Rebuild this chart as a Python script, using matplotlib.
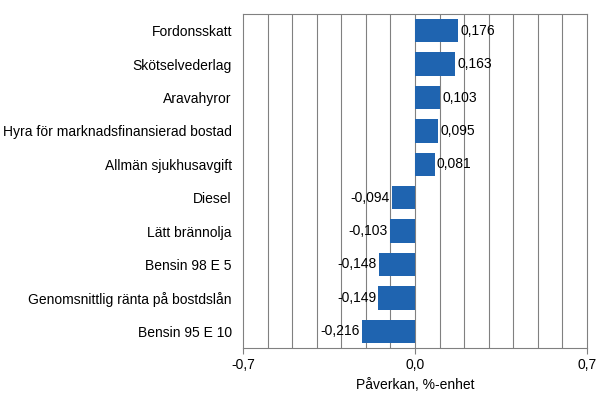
import matplotlib
matplotlib.use("Agg")
import matplotlib.pyplot as plt
import numpy as np

categories = ["Fordonsskatt", "Skötselvederlag", "Aravahyror", "Hyra för marknadsfinansierad bostad",
              "Allmän sjukhusavgift", "Diesel", "Lätt brännolja", "Bensin 98 E 5",
              "Genomsnittlig ränta på bostdslån", "Bensin 95 E 10"]
values = [0.176, 0.163, 0.103, 0.095, 0.081, -0.094, -0.103, -0.148, -0.149, -0.216]
xticks = [-0.7, 0.0, 0.7]
xticklabels = ["-0,7", "0,0", "0,7"]

plt.rcParams["font.family"] = "Liberation Sans"
fig = plt.figure(figsize=(6.06, 4.16), dpi=100)
ax = fig.add_axes([243/606, 1-348/416, 344/606, 334/416])
y = np.arange(len(categories))
ax.barh(y, values, height=0.7, color="#1f64b0", zorder=3)
for v in np.arange(-0.6, 0.7, 0.1):
    ax.axvline(v, color="#808080", lw=0.8, zorder=1)
ax.set_xlim(-0.7, 0.7)
ax.set_ylim(len(categories)-0.5, -0.5)
ax.set_yticks(y)
ax.set_yticklabels(categories, fontsize=10)
ax.set_xticks(xticks)
ax.set_xticklabels(xticklabels, fontsize=10)
ax.tick_params(axis="y", length=0, pad=8)
ax.tick_params(axis="x", length=4, color="#808080")
for s in ax.spines.values():
    s.set_color("#808080")
for yi, v in zip(y, values):
    lab = f"{v:.3f}".replace(".", ",")
    if v >= 0:
        ax.text(v + 0.008, yi, lab, va="center", ha="left", fontsize=10)
    else:
        ax.text(v - 0.008, yi, lab, va="center", ha="right", fontsize=10)
ax.set_xlabel("Påverkan, %-enhet", fontsize=10)
fig.savefig("out.png", dpi=100)
